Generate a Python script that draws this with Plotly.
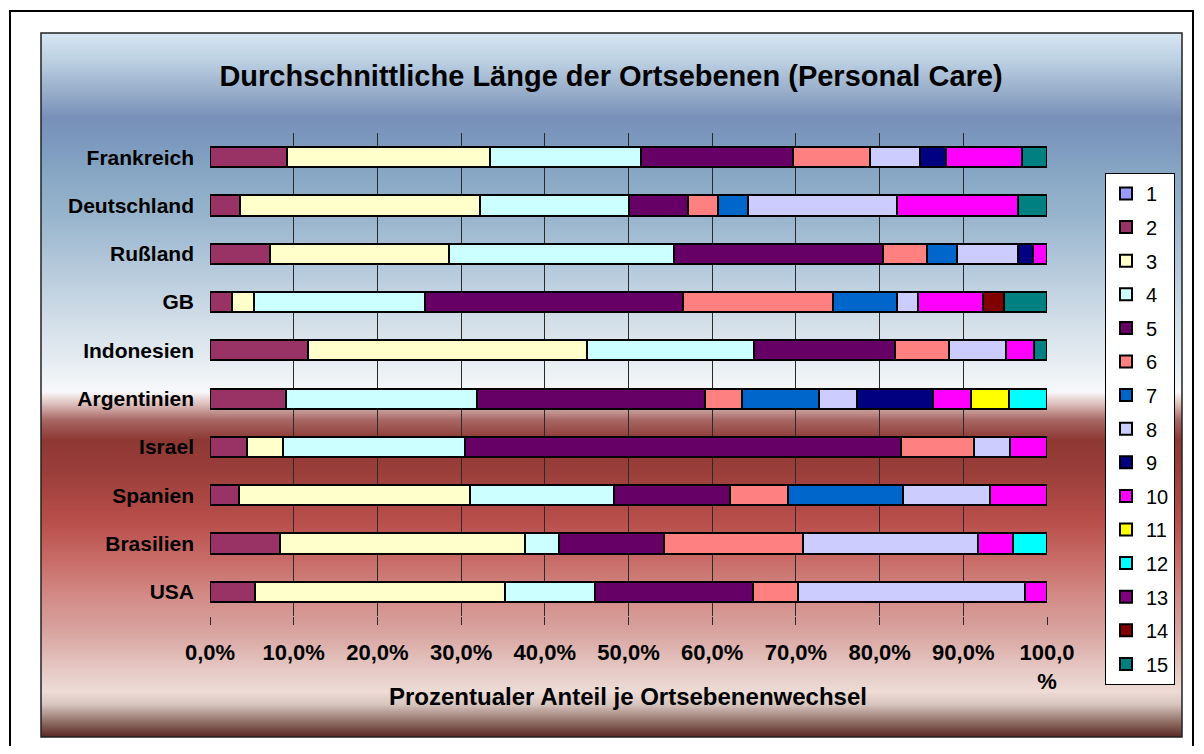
import plotly.graph_objects as go
import zlib, struct, base64

# ---------------- data ----------------
countries = ["Frankreich", "Deutschland", "Rußland", "GB", "Indonesien",
             "Argentinien", "Israel", "Spanien", "Brasilien", "USA"]

series_names = [str(i) for i in range(1, 16)]

s1 = [0, 0, 0, 0, 0, 0, 0, 0, 0, 0]
s2 = [9.2, 3.6, 7.2, 2.6, 11.7, 9.1, 4.4, 3.5, 8.4, 5.4]
s3 = [24.2, 28.6, 21.4, 2.6, 33.4, 0, 4.3, 27.6, 29.2, 29.8]
s4 = [18.1, 17.8, 26.8, 20.5, 19.9, 22.8, 21.8, 17.2, 4.1, 10.8]
s5 = [18.2, 7.1, 25.0, 30.8, 16.8, 27.2, 52.1, 13.8, 12.5, 18.9]
s6 = [9.1, 3.6, 5.3, 17.9, 6.5, 4.5, 8.7, 6.9, 16.6, 5.4]
s7 = [0, 3.6, 3.6, 7.7, 0, 9.2, 0, 13.8, 0, 0]
s8 = [6.0, 17.8, 7.2, 2.5, 6.8, 4.5, 4.3, 10.4, 20.9, 27.1]
s9 = [3.1, 0, 1.8, 0, 0, 9.1, 0, 0, 0, 0]
s10 = [9.1, 14.4, 1.7, 7.7, 3.3, 4.5, 4.4, 6.8, 4.2, 2.6]
s11 = [0, 0, 0, 0, 0, 4.6, 0, 0, 0, 0]
s12 = [0, 0, 0, 0, 0, 4.5, 0, 0, 4.1, 0]
s13 = [0, 0, 0, 0, 0, 0, 0, 0, 0, 0]
s14 = [0, 0, 0, 2.6, 0, 0, 0, 0, 0, 0]
s15 = [3.0, 3.5, 0, 5.1, 1.6, 0, 0, 0, 0, 0]

series_values = [s1, s2, s3, s4, s5, s6, s7, s8, s9, s10, s11, s12, s13, s14, s15]

tick_vals = [0, 10, 20, 30, 40, 50, 60, 70, 80, 90, 100]
tick_text = ["0,0%", "10,0%", "20,0%", "30,0%", "40,0%", "50,0%",
             "60,0%", "70,0%", "80,0%", "90,0%", "100,0<br>%"]

title_text = "Durchschnittliche Länge der Ortsebenen (Personal Care)"
x_title_text = "Prozentualer Anteil je Ortsebenenwechsel"

# ---------------- styles / geometry ----------------
colors = ["#9999FF", "#993366", "#FFFFCC", "#CCFFFF", "#660066", "#FF8080",
          "#0066CC", "#CCCCFF", "#000080", "#FF00FF", "#FFFF00", "#00FFFF",
          "#800080", "#800000", "#008080"]

OFF = 8                       # page body margin of the html page
W, H = 1204 - 2 * OFF, 754 - 2 * OFF
# target plot area in page pixels
AX_L, AX_R, AX_T, AX_B = 210, 1047, 133, 616
ML = AX_L - OFF
MR = W - (AX_R - OFF)
MT, MB = 30, 30               # outer margin box (taller, so the legend fits)
PW, PH = W - ML - MR, H - MT - MB


def px_x(px):
    return (px - OFF - ML) / PW


def px_y(py):
    return (H - MB - (py - OFF)) / PH


# background gradient stops (page pixel row, colour)
grad_stops = [
    (33, "#d6e6f2"), (60, "#bcd0e2"), (90, "#9ab0cc"), (118, "#7890b8"),
    (150, "#7e9cc0"), (170, "#86a6c4"), (220, "#9ab6ce"), (270, "#b6cadc"),
    (320, "#d2dee8"), (370, "#eaf0f4"), (392, "#f8f8fa"), (403, "#e0c4c2"),
    (420, "#a86864"), (440, "#8e3834"), (470, "#9a3e3a"), (520, "#b84e4a"),
    (560, "#c86c68"), (600, "#d48e8a"), (630, "#d8a29e"), (660, "#e2c0bc"),
    (692, "#eedcd6"), (705, "#d8c4be"), (720, "#9a7a72"), (737, "#5a2a25"),
]


def hex2rgb(h):
    h = h.lstrip("#")
    return tuple(int(h[i:i + 2], 16) for i in (0, 2, 4))


def gradient_png(stops):
    y0, y1 = stops[0][0], stops[-1][0]
    rows = []
    for y in range(y0, y1 + 1):
        for (ya, ca), (yb, cb) in zip(stops[:-1], stops[1:]):
            if ya <= y <= yb:
                t = (y - ya) / (yb - ya) if yb > ya else 0
                a, b = hex2rgb(ca), hex2rgb(cb)
                rows.append(tuple(int(round(a[k] + (b[k] - a[k]) * t)) for k in range(3)))
                break
    w = 4
    raw = b"".join(b"\x00" + bytes(list(rgb) * w) for rgb in rows)

    def chunk(tag, data):
        c = struct.pack(">I", len(data)) + tag + data
        return c + struct.pack(">I", zlib.crc32(tag + data) & 0xffffffff)

    png = b"\x89PNG\r\n\x1a\n"
    png += chunk(b"IHDR", struct.pack(">IIBBBBB", w, len(rows), 8, 2, 0, 0, 0))
    png += chunk(b"IDAT", zlib.compress(raw, 9))
    png += chunk(b"IEND", b"")
    return "data:image/png;base64," + base64.b64encode(png).decode()


FONT = "Liberation Sans, Arial, sans-serif"

fig = go.Figure()
for name, vals, col in zip(series_names, series_values, colors):
    fig.add_trace(go.Bar(
        name=name, y=countries, x=vals, orientation="h",
        marker=dict(color=col, line=dict(color="black", width=2)),
        legendgroup=name,
    ))

gx0, gx1, gy0, gy1 = 41, 1182, 33, 737
fig.update_layout(
    width=W, height=H,
    margin=dict(l=ML, r=MR, t=MT, b=MB, pad=0),
    barmode="stack", bargap=0.58,
    paper_bgcolor="white", plot_bgcolor="rgba(0,0,0,0)",
    font=dict(family=FONT, color="black"),
    title=dict(text=title_text, x=px_x(611), xref="paper", xanchor="center",
               y=1 - (76 - OFF) / H, yref="container", yanchor="middle",
               font=dict(size=29, weight="bold", family=FONT)),
    xaxis=dict(range=[0, 100], tickvals=tick_vals, ticktext=tick_text,
               showgrid=True, gridcolor="#2a2a2a", gridwidth=1, zeroline=False,
               ticks="outside", ticklen=8, tickcolor="#2a2a2a", showline=False,
               tickfont=dict(size=22, weight="bold", family=FONT),
               ticklabelstandoff=9),
    yaxis=dict(categoryorder="array", categoryarray=countries, autorange="reversed",
               domain=[px_y(AX_B), px_y(AX_T)],
               showgrid=False, ticks="", showline=False,
               tickfont=dict(size=21, weight="bold", family=FONT),
               ticklabelstandoff=15),
    legend=dict(x=px_x(1105), y=px_y(173), xanchor="left", yanchor="top",
                bgcolor="white", bordercolor="black", borderwidth=1,
                font=dict(size=20, family=FONT), tracegroupgap=4.6,
                itemwidth=30, traceorder="grouped"),
    images=[dict(source=gradient_png(grad_stops), xref="paper", yref="paper",
                 x=px_x(gx0), y=px_y(gy0), sizex=px_x(gx1) - px_x(gx0),
                 sizey=px_y(gy0) - px_y(gy1), xanchor="left", yanchor="top",
                 sizing="stretch", layer="below")],
    shapes=[
        dict(type="rect", xref="paper", yref="paper", x0=px_x(10), x1=px_x(1193),
             y0=px_y(11), y1=px_y(750), line=dict(color="black", width=2),
             fillcolor="rgba(0,0,0,0)", layer="above"),
        dict(type="rect", xref="paper", yref="paper", x0=px_x(gx0), x1=px_x(gx1),
             y0=px_y(gy0), y1=px_y(gy1), line=dict(color="#222222", width=1.5),
             fillcolor="rgba(0,0,0,0)", layer="above"),
    ],
    annotations=[dict(text=x_title_text, xref="paper", yref="paper",
                      x=px_x(628), y=px_y(696), xanchor="center", yanchor="middle",
                      showarrow=False, font=dict(size=24, weight="bold", family=FONT))],
)

fig.write_html("out.html")
